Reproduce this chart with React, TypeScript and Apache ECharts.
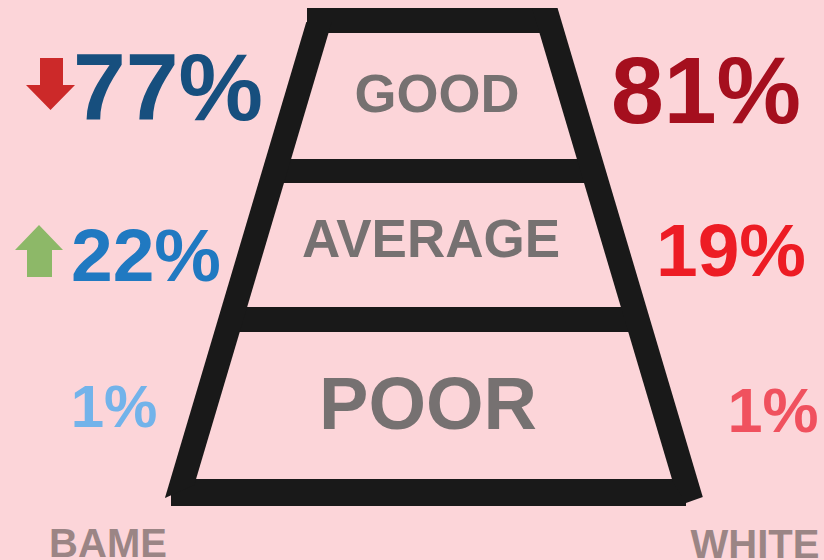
import React, { useEffect, useRef } from "react";
import * as echarts from "echarts";

// ---- data ----
const categories = ["GOOD", "AVERAGE", "POOR"];
const groups = ["BAME", "WHITE"];
const bameValues = [77, 22, 1];
const whiteValues = [81, 19, 1];
const bameTrend = ["down", "up", ""];

// ---- layout / style constants ----
const BG = "#fcd5d9";
const FRAME = "#191919";
const CAT_COLOR = "#767171";
const GROUP_COLOR = "#9b8585";
const bameColors = ["#174f7e", "#2079c1", "#72b3ea"];
const whiteColors = ["#a50f1e", "#ed1c24", "#f0515e"];
const FONT = "'Liberation Sans', Arial, Helvetica, sans-serif";

const bamePos = [
  { x: 168, y: 87, size: 95 },
  { x: 146, y: 255, size: 75 },
  { x: 114, y: 406, size: 60 },
];
const whitePos = [
  { x: 706, y: 90, size: 95 },
  { x: 731, y: 250, size: 75 },
  { x: 773, y: 410, size: 63 },
];
const catPos = [
  { x: 437, y: 93, size: 54 },
  { x: 431, y: 238, size: 53 },
  { x: 428, y: 403, size: 74 },
];
const groupPos = [
  { x: 108, y: 543, size: 40 },
  { x: 755, y: 544, size: 40 },
];

function leftOuter(y: number) {
  return 295 - 0.297 * (y - 60);
}
function rightOuter(y: number) {
  return 573 + 0.297 * (y - 60);
}
const SIDE_W = 25.5;

function buildGraphics() {
  const els: any[] = [];
  // frame
  const rect = (x: number, y: number, w: number, h: number) => ({
    type: "rect",
    shape: { x, y, width: w, height: h },
    style: { fill: FRAME },
  });
  els.push(rect(307, 8, 240, 25)); // top bar
  els.push(rect(275, 159, 320, 24)); // divider 1
  els.push(rect(230, 307, 410, 25)); // divider 2
  els.push(rect(171, 479, 515, 27)); // bottom bar
  // left side
  els.push({
    type: "polygon",
    shape: {
      points: [
        [leftOuter(22), 22],
        [leftOuter(22) + SIDE_W, 22],
        [leftOuter(485) + SIDE_W, 485],
        [leftOuter(498), 498],
      ],
    },
    style: { fill: FRAME },
  });
  // right side
  els.push({
    type: "polygon",
    shape: {
      points: [
        [rightOuter(8) - SIDE_W, 8],
        [rightOuter(8), 8],
        [rightOuter(497), 497],
        [686, 503],
        [rightOuter(482) - SIDE_W, 482],
      ],
    },
    style: { fill: FRAME },
  });

  // arrows
  bameTrend.forEach((t) => {
    if (t === "down") {
      els.push({
        type: "polygon",
        shape: {
          points: [
            [40, 58],
            [63, 58],
            [63, 85],
            [75, 85],
            [50.5, 110],
            [26, 85],
            [40, 85],
          ],
        },
        style: { fill: "#cc2929" },
      });
    } else if (t === "up") {
      els.push({
        type: "polygon",
        shape: {
          points: [
            [39, 225],
            [63, 250],
            [52, 250],
            [52, 277],
            [27, 277],
            [27, 250],
            [15, 250],
          ],
        },
        style: { fill: "#8db868" },
      });
    }
  });

  const txt = (text: string, p: any, color: string) => ({
    type: "text",
    x: p.x,
    y: p.y,
    style: {
      text,
      fill: color,
      fontFamily: FONT,
      fontWeight: "bold",
      fontSize: p.size,
      align: "center",
      verticalAlign: "middle",
    },
  });

  categories.forEach((c, i) => {
    els.push(txt(c, catPos[i], CAT_COLOR));
    els.push(txt(bameValues[i] + "%", bamePos[i], bameColors[i]));
    els.push(txt(whiteValues[i] + "%", whitePos[i], whiteColors[i]));
  });
  groups.forEach((g, i) => {
    els.push(txt(g, groupPos[i], GROUP_COLOR));
  });
  return els;
}

export default function App() {
  const ref = useRef<HTMLDivElement>(null);
  useEffect(() => {
    if (!ref.current) return;
    const chart = echarts.init(ref.current, null, { renderer: "svg" });
    chart.setOption({
      animation: false,
      backgroundColor: BG,
      graphic: { elements: buildGraphics() },
    });
    return () => chart.dispose();
  }, []);
  return (
    <div
      ref={ref}
      style={{ position: "absolute", left: 0, top: 0, width: 824, height: 560 }}
    />
  );
}
